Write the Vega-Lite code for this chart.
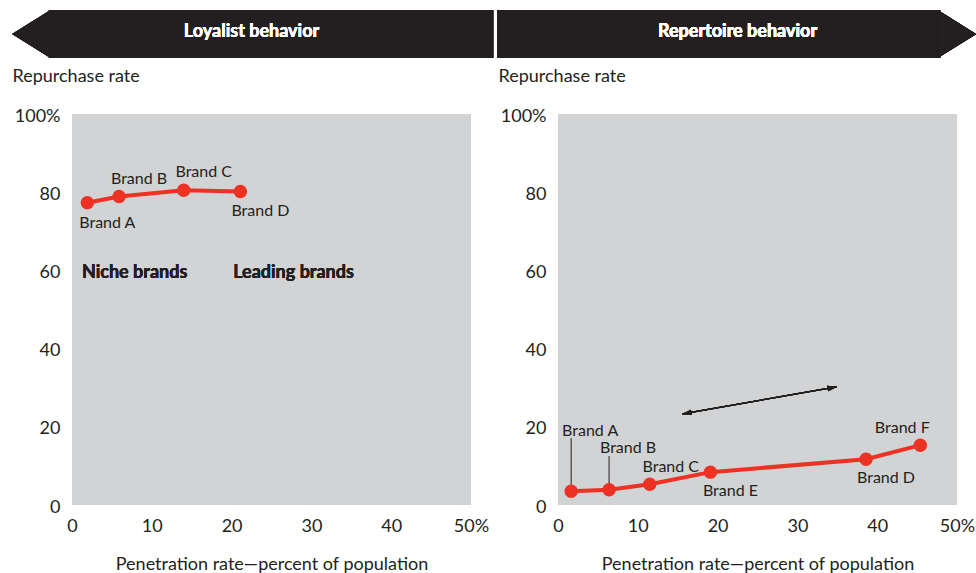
{
  "$schema": "https://vega.github.io/schema/vega-lite/v6.json",
  "padding": {"left": 12, "top": 9, "right": 0, "bottom": 0},
  "background": "white",
  "spacing": 87,
  "bounds": "flush",
  "config": {
    "font": "Lato",
    "view": {"stroke": null, "fill": "#d1d3d4"},
    "axis": {"grid": false, "ticks": false, "domain": false, "labelFontSize": 18, "labelColor": "#231f20", "titleFontSize": 18, "titleFontWeight": "normal", "titleColor": "#231f20", "labelFlush": false},
    "text": {"font": "Lato", "fontSize": 16, "color": "#231f20"}
  },
  "datasets": {
    "loyalist": [
      {"brand": "Brand A", "penetration": 1.92, "repurchase": 77.3},
      {"brand": "Brand B", "penetration": 5.9, "repurchase": 78.9},
      {"brand": "Brand C", "penetration": 14.0, "repurchase": 80.5},
      {"brand": "Brand D", "penetration": 21.1, "repurchase": 80.2}
    ],
    "repertoire": [
      {"brand": "Brand A", "penetration": 1.65, "repurchase": 3.5},
      {"brand": "Brand B", "penetration": 6.4, "repurchase": 3.9},
      {"brand": "Brand C", "penetration": 11.5, "repurchase": 5.3},
      {"brand": "Brand E", "penetration": 19.1, "repurchase": 8.4},
      {"brand": "Brand D", "penetration": 38.6, "repurchase": 11.7},
      {"brand": "Brand F", "penetration": 45.4, "repurchase": 15.3}
    ]
  },
  "hconcat": [
    {
      "width": 399,
      "height": 391,
      "data": {"name": "loyalist"},
      "encoding": {
        "x": {"field": "penetration", "type": "quantitative", "scale": {"domain": [0, 50], "nice": false, "zero": false},
          "axis": {"values": [0, 10, 20, 30, 40, 50], "labelExpr": "datum.value == 50 ? '50%' : datum.label", "labelPadding": 12, "titlePadding": 20, "title": "Penetration rate—percent of population"}},
        "y": {"field": "repurchase", "type": "quantitative", "scale": {"domain": [0, 100], "nice": false},
          "axis": {"values": [0, 20, 40, 60, 80, 100], "labelExpr": "datum.value == 100 ? '100%' : datum.label", "labelPadding": 12, "labelOffset": 2, "title": "Repurchase rate", "titleAngle": 0, "titleAlign": "left", "titleBaseline": "middle", "titleX": -60, "titleY": -38}}
      },
      "layer": [
        {"mark": {"type": "rect", "color": "#231f20"}, "encoding": {"x": {"datum": -2.9, "type": "quantitative"}, "x2": {"datum": 52.8}, "y": {"datum": 126.6, "type": "quantitative"}, "y2": {"datum": 114.3}}},
        {"mark": {"type": "point", "shape": "M0.8,-1L-0.8,0L0.8,1Z", "filled": true, "color": "#231f20", "opacity": 1, "size": 2304, "strokeWidth": 0}, "encoding": {"x": {"datum": -5.11, "type": "quantitative"}, "y": {"datum": 120.46, "type": "quantitative"}}},
        {"mark": {"type": "text", "color": "white", "fontWeight": "bold", "fontSize": 18}, "encoding": {"x": {"datum": 22.5, "type": "quantitative"}, "y": {"datum": 121, "type": "quantitative"}, "text": {"value": "Loyalist behavior"}}},
        {"mark": {"type": "line", "color": "#ed3224", "strokeWidth": 4}},
        {"mark": {"type": "circle", "color": "#ed3224", "opacity": 1, "size": 180}},
        {"transform": [{"filter": {"field": "brand", "oneOf": ["Brand B", "Brand C"]}}], "mark": {"type": "text", "dx": 20, "dy": -18}, "encoding": {"text": {"field": "brand"}}},
        {"transform": [{"filter": {"field": "brand", "oneOf": ["Brand A", "Brand D"]}}], "mark": {"type": "text", "dx": 20, "dy": 20}, "encoding": {"text": {"field": "brand"}}},
        {"mark": {"type": "text", "align": "left", "fontWeight": "bold", "fontSize": 18}, "encoding": {"x": {"datum": 1.25, "type": "quantitative"}, "y": {"datum": 59.3, "type": "quantitative"}, "text": {"value": "Niche brands"}}},
        {"mark": {"type": "text", "align": "left", "fontWeight": "bold", "fontSize": 18}, "encoding": {"x": {"datum": 20.2, "type": "quantitative"}, "y": {"datum": 59.3, "type": "quantitative"}, "text": {"value": "Leading brands"}}}
      ]
    },
    {
      "width": 399,
      "height": 391,
      "data": {"name": "repertoire"},
      "encoding": {
        "x": {"field": "penetration", "type": "quantitative", "scale": {"domain": [0, 50], "nice": false, "zero": false},
          "axis": {"values": [0, 10, 20, 30, 40, 50], "labelExpr": "datum.value == 50 ? '50%' : datum.label", "labelPadding": 12, "titlePadding": 20, "title": "Penetration rate—percent of population"}},
        "y": {"field": "repurchase", "type": "quantitative", "scale": {"domain": [0, 100], "nice": false},
          "axis": {"values": [0, 20, 40, 60, 80, 100], "labelExpr": "datum.value == 100 ? '100%' : datum.label", "labelPadding": 12, "labelOffset": 2, "title": "Repurchase rate", "titleAngle": 0, "titleAlign": "left", "titleBaseline": "middle", "titleX": -60, "titleY": -38}}
      },
      "layer": [
        {"mark": {"type": "rect", "color": "#231f20"}, "encoding": {"x": {"datum": -7.64, "type": "quantitative"}, "x2": {"datum": 47.9}, "y": {"datum": 126.6, "type": "quantitative"}, "y2": {"datum": 114.3}}},
        {"mark": {"type": "point", "shape": "M-0.8,-1L0.8,0L-0.8,1Z", "filled": true, "color": "#231f20", "opacity": 1, "size": 2304, "strokeWidth": 0}, "encoding": {"x": {"datum": 50.0, "type": "quantitative"}, "y": {"datum": 120.46, "type": "quantitative"}}},
        {"mark": {"type": "text", "color": "white", "fontWeight": "bold", "fontSize": 18}, "encoding": {"x": {"datum": 22.5, "type": "quantitative"}, "y": {"datum": 121, "type": "quantitative"}, "text": {"value": "Repertoire behavior"}}},
        {"mark": {"type": "rule", "color": "#231f20", "strokeWidth": 1.2}, "encoding": {"x": {"datum": 15.6, "type": "quantitative"}, "y": {"datum": 23.3, "type": "quantitative"}, "x2": {"datum": 34.9}, "y2": {"datum": 30.2}}},
        {"mark": {"type": "point", "shape": "M2,-0.6L0,0L2,0.6Z", "filled": true, "color": "#231f20", "opacity": 1, "size": 81, "strokeWidth": 0, "angle": 350}, "encoding": {"x": {"datum": 15.6, "type": "quantitative"}, "y": {"datum": 23.3, "type": "quantitative"}}},
        {"mark": {"type": "point", "shape": "M-2,-0.6L0,0L-2,0.6Z", "filled": true, "color": "#231f20", "opacity": 1, "size": 81, "strokeWidth": 0, "angle": 350}, "encoding": {"x": {"datum": 34.9, "type": "quantitative"}, "y": {"datum": 30.2, "type": "quantitative"}}},
        {"transform": [{"filter": {"field": "brand", "equal": "Brand A"}}], "mark": {"type": "rule", "color": "#231f20", "strokeWidth": 1}, "encoding": {"y2": {"datum": 17.1}}},
        {"transform": [{"filter": {"field": "brand", "equal": "Brand B"}}], "mark": {"type": "rule", "color": "#231f20", "strokeWidth": 1}, "encoding": {"y2": {"datum": 12.5}}},
        {"mark": {"type": "line", "color": "#ed3224", "strokeWidth": 4}},
        {"mark": {"type": "circle", "color": "#ed3224", "opacity": 1, "size": 180}},
        {"transform": [{"filter": {"field": "brand", "equal": "Brand A"}}], "mark": {"type": "text", "dx": 19, "dy": -60}, "encoding": {"text": {"field": "brand"}}},
        {"transform": [{"filter": {"field": "brand", "equal": "Brand B"}}], "mark": {"type": "text", "dx": 19, "dy": -42}, "encoding": {"text": {"field": "brand"}}},
        {"transform": [{"filter": {"field": "brand", "equal": "Brand C"}}], "mark": {"type": "text", "dx": 21, "dy": -17}, "encoding": {"text": {"field": "brand"}}},
        {"transform": [{"filter": {"field": "brand", "oneOf": ["Brand E", "Brand D"]}}], "mark": {"type": "text", "dx": 20, "dy": 19}, "encoding": {"text": {"field": "brand"}}},
        {"transform": [{"filter": {"field": "brand", "equal": "Brand F"}}], "mark": {"type": "text", "dx": -18, "dy": -17}, "encoding": {"text": {"field": "brand"}}}
      ]
    }
  ]
}
